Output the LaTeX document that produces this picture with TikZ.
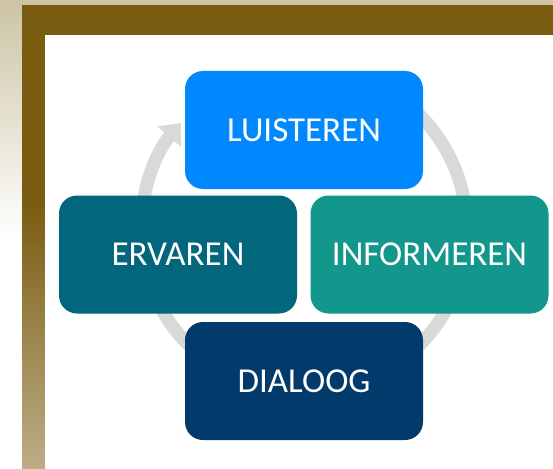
\documentclass[tikz,border=0pt]{standalone}
\usepackage{fontspec}
\setmainfont{Carlito}
\usetikzlibrary{arrows.meta}
\definecolor{kader}{HTML}{7A5C10}
\definecolor{kaderlicht}{HTML}{BCAD88}
\definecolor{zand}{HTML}{CCC4A4}
\definecolor{kringgrijs}{HTML}{D9D9D9}
\definecolor{luisterblauw}{HTML}{0288FE}
\definecolor{infogroen}{HTML}{13978C}
\definecolor{ervaarblauw}{HTML}{02667C}
\definecolor{dialoogblauw}{HTML}{023B6B}
\tikzset{fase/.style={rounded corners=18pt, minimum width=238pt, minimum height=118pt, inner sep=0pt, text=white, font=\fontsize{35}{40}\selectfont}}

\begin{document}
\begin{tikzpicture}[x=1pt, y=-1pt]
\useasboundingbox (0,0) rectangle (553,468);
\fill[white] (0,0) rectangle (553,468);
\shade[top color=zand, bottom color=white] (0,0) rectangle (22,240);
\fill[zand] (22,0) rectangle (553,5);
\fill[kader] (22,5) rectangle (553,35);
\fill[kader] (22,35) rectangle (45,200);
\shade[top color=kader, bottom color=kaderlicht] (22,200) rectangle (45,468);
\fill[white] (45,35) rectangle (553,468);
\draw[kringgrijs, line width=13pt, -{Triangle[width=30pt, length=18pt]}] (304,230) ++(-60:163) arc[start angle=-60, end angle=221, radius=163];
\node[fase, fill=luisterblauw] (luisteren) at (304,130) {LUISTEREN};
\node[fase, fill=ervaarblauw] (ervaren) at (178,254.5) {ERVAREN};
\node[fase, fill=infogroen] (informeren) at (429.5,254.5) {INFORMEREN};
\node[fase, fill=dialoogblauw] (dialoog) at (304,381) {DIALOOG};
\end{tikzpicture}
\end{document}
